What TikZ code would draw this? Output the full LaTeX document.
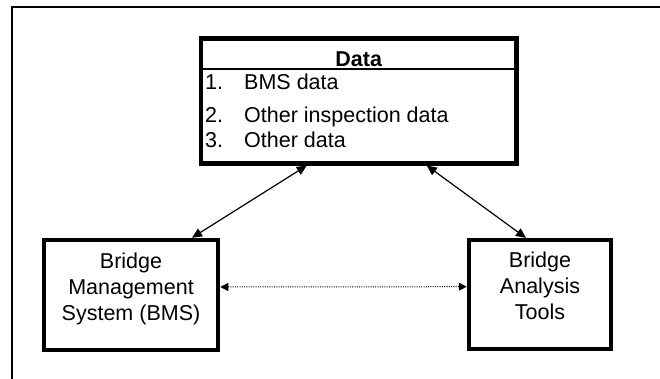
\documentclass[tikz,border=0pt]{standalone}
\usepackage{fontspec}
\setmainfont{Liberation Sans}
\usetikzlibrary{arrows.meta}

\begin{document}
\begin{tikzpicture}[x = 1pt, y = 1pt, font = \fontsize{21.5}{26}\selectfont,
  box/.style = {draw, line width = 4.5pt, inner sep = 0pt},
  link/.style = {{Triangle[length=10pt,width=9pt]}-{Triangle[length=10pt,width=9pt]}, line width = 1.2pt},
  dotlink/.style = {{Triangle[length=8pt,width=8pt]}-{Triangle[length=8pt,width=8pt]}, line width = 1pt, dash pattern = on 1pt off 1.3pt}]
  \useasboundingbox (0, 0) rectangle (660, -379);
  \draw[line width = 2pt] (12, -379) -- (12, -7) -- (660, -7);
  \node[box, minimum width = 315.5pt, minimum height = 125pt] at (358.75, -100.8) (data) {};
  \node[box, minimum width = 174pt, minimum height = 110pt] at (131, -295) (bms) {};
  \node[box, minimum width = 142pt, minimum height = 109pt] at (540, -294.7) (bat) {};
  \draw[line width = 1.5pt] ([yshift=-33pt]data.north west) -- ([yshift=-33pt]data.north east);
  \node[anchor = base] at (358.75, -67) (title) {\bfseries Data};
  \foreach \i/\y/\txt in {1/90/BMS data, 2/123/Other inspection data, 3/148/Other data}
  {
  \node[anchor = base west, inner sep = 0pt] at (205, -\y) (num\i) {\i.};
  \node[anchor = base west, inner sep = 0pt] at (244, -\y) (item\i) {\txt};
  }
  \node[align = center] at (131, -288.5) (bmstext) {Bridge\\Management\\System (BMS)};
  \node[align = center] at (540, -286) (battext) {Bridge\\Analysis\\Tools};
  \draw[link] ([xshift=-52pt]data.south) -- ([xshift=61pt]bms.north);
  \draw[link] ([xshift=68pt]data.south) -- ([xshift=-14pt]bat.north);
  \draw[dotlink] ([yshift=8pt]bms.east) -- ([yshift=8pt]bat.west);
\end{tikzpicture}
\end{document}
